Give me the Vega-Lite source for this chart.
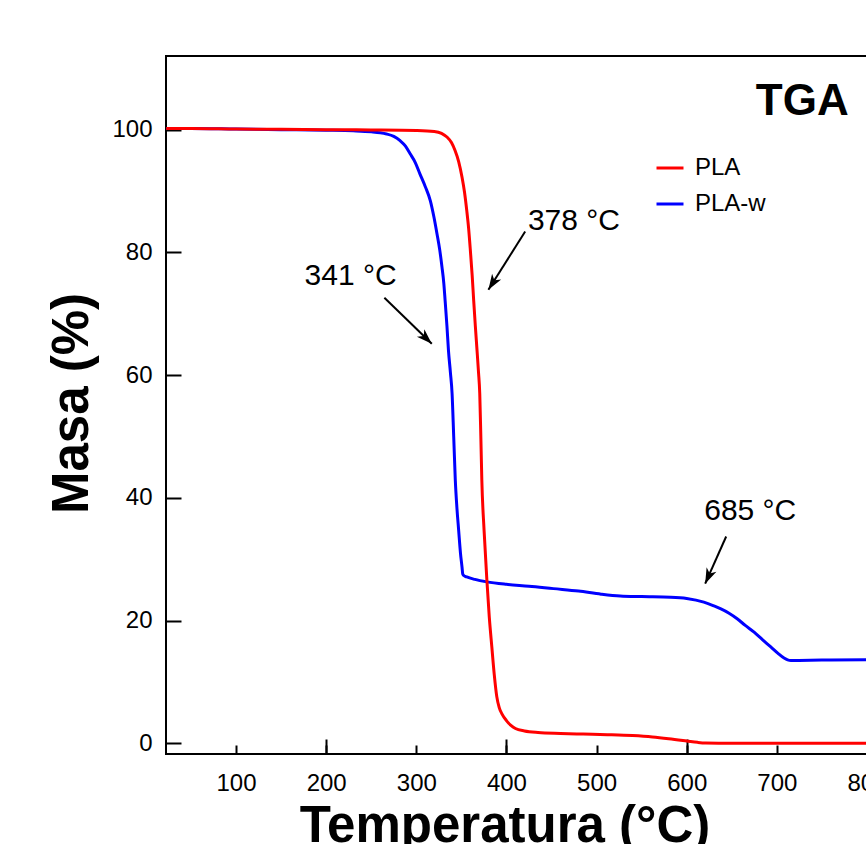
{
  "$schema": "https://vega.github.io/schema/vega-lite/v6.json",
  "width": 728,
  "height": 698,
  "autosize": {"type": "none"},
  "padding": {"left": 166, "top": 56, "right": 0, "bottom": 90},
  "background": "white",
  "config": {
    "view": {"stroke": "black", "strokeWidth": 2},
    "font": "Liberation Sans",
    "axis": {"grid": false, "domain": false, "tickColor": "black", "tickWidth": 2, "labelColor": "black", "titleColor": "black", "labelFont": "Liberation Sans", "titleFont": "Liberation Sans"}
  },
  "datasets": {
    "tga": [
      {"x": 22.5, "y": 100.2, "s": "PLA"}, {"x": 50, "y": 100.2, "s": "PLA"}, {"x": 100, "y": 100.1, "s": "PLA"}, {"x": 150, "y": 100.05, "s": "PLA"}, {"x": 200, "y": 100.0, "s": "PLA"}, {"x": 250, "y": 99.95, "s": "PLA"}, {"x": 300, "y": 99.85, "s": "PLA"}, {"x": 320, "y": 99.7, "s": "PLA"}, {"x": 328, "y": 99.4, "s": "PLA"}, {"x": 334, "y": 98.8, "s": "PLA"}, {"x": 339, "y": 97.9, "s": "PLA"}, {"x": 343, "y": 96.6, "s": "PLA"}, {"x": 347, "y": 94.8, "s": "PLA"}, {"x": 350.8, "y": 92.2, "s": "PLA"}, {"x": 353.5, "y": 89.8, "s": "PLA"}, {"x": 356, "y": 86.8, "s": "PLA"}, {"x": 358, "y": 84, "s": "PLA"}, {"x": 360, "y": 80.3, "s": "PLA"}, {"x": 362, "y": 76.2, "s": "PLA"}, {"x": 363.7, "y": 72.1, "s": "PLA"}, {"x": 365.5, "y": 68, "s": "PLA"}, {"x": 367.4, "y": 64, "s": "PLA"}, {"x": 369, "y": 60.5, "s": "PLA"}, {"x": 370.4, "y": 57, "s": "PLA"}, {"x": 371.6, "y": 50, "s": "PLA"}, {"x": 372.7, "y": 42.9, "s": "PLA"}, {"x": 375.2, "y": 34.7, "s": "PLA"}, {"x": 378.3, "y": 26.6, "s": "PLA"}, {"x": 381, "y": 20.5, "s": "PLA"}, {"x": 383.8, "y": 15.7, "s": "PLA"}, {"x": 386.5, "y": 11.2, "s": "PLA"}, {"x": 389.3, "y": 7.6, "s": "PLA"}, {"x": 392, "y": 5.8, "s": "PLA"}, {"x": 395, "y": 4.8, "s": "PLA"}, {"x": 400, "y": 3.7, "s": "PLA"}, {"x": 405, "y": 2.9, "s": "PLA"}, {"x": 410, "y": 2.4, "s": "PLA"}, {"x": 420, "y": 2.0, "s": "PLA"}, {"x": 435, "y": 1.75, "s": "PLA"}, {"x": 460, "y": 1.6, "s": "PLA"}, {"x": 485, "y": 1.5, "s": "PLA"}, {"x": 512, "y": 1.4, "s": "PLA"}, {"x": 540, "y": 1.25, "s": "PLA"}, {"x": 562, "y": 1.03, "s": "PLA"}, {"x": 580, "y": 0.75, "s": "PLA"}, {"x": 600, "y": 0.38, "s": "PLA"}, {"x": 612, "y": 0.15, "s": "PLA"}, {"x": 621, "y": 0.05, "s": "PLA"}, {"x": 650, "y": 0.0, "s": "PLA"}, {"x": 700, "y": 0.0, "s": "PLA"}, {"x": 750, "y": 0.0, "s": "PLA"}, {"x": 800, "y": 0.0, "s": "PLA"}, {"x": 830, "y": 0.0, "s": "PLA"},
      {"x": 22.5, "y": 100.2, "s": "PLA-w"}, {"x": 50, "y": 100.2, "s": "PLA-w"}, {"x": 100, "y": 100.1, "s": "PLA-w"}, {"x": 150, "y": 100.0, "s": "PLA-w"}, {"x": 200, "y": 99.9, "s": "PLA-w"}, {"x": 230, "y": 99.8, "s": "PLA-w"}, {"x": 250, "y": 99.65, "s": "PLA-w"}, {"x": 260, "y": 99.5, "s": "PLA-w"}, {"x": 267, "y": 99.3, "s": "PLA-w"}, {"x": 275, "y": 98.9, "s": "PLA-w"}, {"x": 282, "y": 98.2, "s": "PLA-w"}, {"x": 288, "y": 97.3, "s": "PLA-w"}, {"x": 293, "y": 96.1, "s": "PLA-w"}, {"x": 299, "y": 94.6, "s": "PLA-w"}, {"x": 304, "y": 92.8, "s": "PLA-w"}, {"x": 310, "y": 90.7, "s": "PLA-w"}, {"x": 315.6, "y": 88.4, "s": "PLA-w"}, {"x": 319.5, "y": 85.8, "s": "PLA-w"}, {"x": 323, "y": 83, "s": "PLA-w"}, {"x": 326, "y": 80.4, "s": "PLA-w"}, {"x": 328.5, "y": 77.6, "s": "PLA-w"}, {"x": 330.5, "y": 75, "s": "PLA-w"}, {"x": 332, "y": 72.1, "s": "PLA-w"}, {"x": 334, "y": 68, "s": "PLA-w"}, {"x": 335.7, "y": 64, "s": "PLA-w"}, {"x": 337.8, "y": 60.5, "s": "PLA-w"}, {"x": 339.7, "y": 57, "s": "PLA-w"}, {"x": 341.5, "y": 50, "s": "PLA-w"}, {"x": 343.3, "y": 42.8, "s": "PLA-w"}, {"x": 345, "y": 38.5, "s": "PLA-w"}, {"x": 347, "y": 34.7, "s": "PLA-w"}, {"x": 349, "y": 31, "s": "PLA-w"}, {"x": 350.8, "y": 28.6, "s": "PLA-w"}, {"x": 351.5, "y": 27.6, "s": "PLA-w"}, {"x": 353, "y": 27.3, "s": "PLA-w"}, {"x": 356, "y": 27.1, "s": "PLA-w"}, {"x": 365, "y": 26.7, "s": "PLA-w"}, {"x": 378.2, "y": 26.3, "s": "PLA-w"}, {"x": 400, "y": 25.9, "s": "PLA-w"}, {"x": 425, "y": 25.6, "s": "PLA-w"}, {"x": 452.2, "y": 25.2, "s": "PLA-w"}, {"x": 480, "y": 24.8, "s": "PLA-w"}, {"x": 505, "y": 24.3, "s": "PLA-w"}, {"x": 526.2, "y": 24.0, "s": "PLA-w"}, {"x": 550, "y": 23.9, "s": "PLA-w"}, {"x": 582, "y": 23.8, "s": "PLA-w"}, {"x": 600, "y": 23.6, "s": "PLA-w"}, {"x": 619, "y": 23.0, "s": "PLA-w"}, {"x": 630, "y": 22.4, "s": "PLA-w"}, {"x": 638, "y": 21.9, "s": "PLA-w"}, {"x": 647, "y": 21.2, "s": "PLA-w"}, {"x": 656, "y": 20.3, "s": "PLA-w"}, {"x": 665, "y": 19.2, "s": "PLA-w"}, {"x": 674.8, "y": 18.1, "s": "PLA-w"}, {"x": 684, "y": 16.9, "s": "PLA-w"}, {"x": 693.3, "y": 15.7, "s": "PLA-w"}, {"x": 701, "y": 14.7, "s": "PLA-w"}, {"x": 708, "y": 13.9, "s": "PLA-w"}, {"x": 712, "y": 13.6, "s": "PLA-w"}, {"x": 715.6, "y": 13.5, "s": "PLA-w"}, {"x": 750, "y": 13.55, "s": "PLA-w"}, {"x": 800, "y": 13.6, "s": "PLA-w"}, {"x": 830, "y": 13.6, "s": "PLA-w"}
    ],
    "arrows": [
      {"x": 264.6, "y": 72.6, "x2": 317.2, "y2": 65.1},
      {"x": 420.8, "y": 83.4, "x2": 380.0, "y2": 73.9},
      {"x": 643.8, "y": 33.7, "x2": 620.5, "y2": 26.0}
    ],
    "labels": [
      {"x": 227.1, "y": 74.7, "t": "341 °C"},
      {"x": 474.9, "y": 83.65, "t": "378 °C"},
      {"x": 670.5, "y": 36.4, "t": "685 °C"}
    ],
    "title": [{"x": 728.2, "y": 102.4, "t": "TGA"}]
  },
  "layer": [
    {
      "data": {"name": "tga"},
      "transform": [{"filter": "datum.s == 'PLA-w'"}],
      "mark": {"type": "line", "strokeWidth": 3, "clip": true, "interpolate": "monotone"},
      "encoding": {
        "x": {"field": "x", "type": "quantitative", "scale": {"domain": [22.3, 830], "nice": false, "zero": false},
          "axis": {"values": [100, 200, 300, 400, 500, 600, 700, 800], "tickSize": -9, "labelFontSize": 24, "labelPadding": 26, "labelFlush": false, "labelOverlap": false, "labelBaseline": "top",
            "title": "Temperatura (°C)", "titleFontSize": 51, "titleFontWeight": "bold", "titleX": 338.5, "titleY": 87.5, "titleAlign": "center", "titleBaseline": "alphabetic", "titleAnchor": null, "orient": "bottom"}},
        "y": {"field": "y", "type": "quantitative", "scale": {"domain": [-1.75, 112], "nice": false, "zero": false},
          "axis": {"values": [0, 20, 40, 60, 80, 100], "tickSize": -15, "labelFontSize": 24, "labelPadding": 29, "labelFlush": false, "labelOverlap": false,
            "title": "Masa (%)", "titleFontSize": 51, "titleFontWeight": "bold", "titleAngle": 270, "titleX": -79, "titleY": 347, "titleAlign": "center", "titleBaseline": "alphabetic"}},
        "color": {"field": "s", "type": "nominal", "scale": {"domain": ["PLA", "PLA-w"], "range": ["#ff0000", "#0000ff"]},
          "legend": {"orient": "none", "legendX": 489, "legendY": 97, "title": null, "padding": 0, "symbolType": "stroke", "symbolStrokeWidth": 3, "symbolSize": 729, "labelFontSize": 24, "labelColor": "black", "labelOffset": 10, "rowPadding": 9, "labelFont": "Liberation Sans"}}
      }
    },
    {
      "data": {"name": "tga"},
      "transform": [{"filter": "datum.s == 'PLA'"}],
      "mark": {"type": "line", "strokeWidth": 3, "clip": true, "interpolate": "monotone"},
      "encoding": {
        "x": {"field": "x", "type": "quantitative", "axis": {"values": [200, 400, 600, 800], "tickSize": -15, "labels": false, "title": null, "orient": "bottom", "domain": false}},
        "y": {"field": "y", "type": "quantitative"},
        "color": {"field": "s", "type": "nominal"}
      }
    },
    {
      "data": {"name": "arrows"},
      "mark": {"type": "rule", "strokeWidth": 2, "color": "black"},
      "encoding": {
        "x": {"field": "x", "type": "quantitative", "axis": null},
        "y": {"field": "y", "type": "quantitative"},
        "x2": {"field": "x2"},
        "y2": {"field": "y2"}
      }
    },
    {
      "data": {"values": [{"x": 317.2, "y": 65.1}]},
      "mark": {"type": "point", "shape": "M0,0 L0.5,1.45 L0,1.05 L-0.5,1.45 Z", "filled": true, "color": "black", "opacity": 1, "size": 460, "angle": 134},
      "encoding": {"x": {"field": "x", "type": "quantitative", "axis": null}, "y": {"field": "y", "type": "quantitative"}}
    },
    {
      "data": {"values": [{"x": 380.0, "y": 73.9}]},
      "mark": {"type": "point", "shape": "M0,0 L0.5,1.45 L0,1.05 L-0.5,1.45 Z", "filled": true, "color": "black", "opacity": 1, "size": 460, "angle": 212},
      "encoding": {"x": {"field": "x", "type": "quantitative", "axis": null}, "y": {"field": "y", "type": "quantitative"}}
    },
    {
      "data": {"values": [{"x": 620.5, "y": 26.0}]},
      "mark": {"type": "point", "shape": "M0,0 L0.5,1.45 L0,1.05 L-0.5,1.45 Z", "filled": true, "color": "black", "opacity": 1, "size": 460, "angle": 204},
      "encoding": {"x": {"field": "x", "type": "quantitative", "axis": null}, "y": {"field": "y", "type": "quantitative"}}
    },
    {
      "data": {"name": "labels"},
      "mark": {"type": "text", "font": "Liberation Sans", "fontSize": 30, "align": "center", "baseline": "alphabetic", "color": "black"},
      "encoding": {
        "x": {"field": "x", "type": "quantitative", "axis": null},
        "y": {"field": "y", "type": "quantitative"},
        "text": {"field": "t"}
      }
    },
    {
      "data": {"name": "title"},
      "mark": {"type": "text", "font": "Liberation Sans", "fontSize": 44, "fontWeight": "bold", "align": "center", "baseline": "alphabetic", "color": "black"},
      "encoding": {
        "x": {"field": "x", "type": "quantitative", "axis": null},
        "y": {"field": "y", "type": "quantitative"},
        "text": {"field": "t"}
      }
    }
  ],
  "resolve": {"axis": {"x": "independent"}}
}
